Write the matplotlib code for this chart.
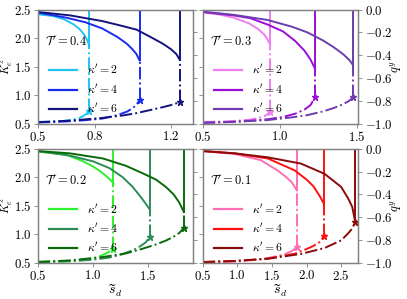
import matplotlib

matplotlib.use("Agg")
import matplotlib.pyplot as plt  # noqa: E402
from matplotlib.lines import Line2D  # noqa: E402

plt.rcParams.update({
    "font.family": "serif",
    "font.serif": ["cmr10"],
    "mathtext.fontset": "cm",
    "axes.formatter.use_mathtext": True,
    "font.size": 9.2,
})

KAPPAS = [2, 4, 6]

# ---- T' = 0.4 -------------------------------------------------------------
s04_k2 = [0.50, 0.58, 0.64, 0.69, 0.72, 0.745, 0.76, 0.772]
K04_k2 = [2.42, 2.39, 2.33, 2.24, 2.16, 2.06, 1.97, 1.87]
q04_k2 = [-0.985, -0.982, -0.976, -0.963, -0.950, -0.928, -0.910, -0.885]
s04_k4 = [0.50, 0.65, 0.75, 0.84, 0.92, 0.97, 1.00, 1.02, 1.036]
K04_k4 = [2.45, 2.36, 2.28, 2.17, 2.02, 1.90, 1.80, 1.72, 1.61]
q04_k4 = [-0.990, -0.981, -0.970, -0.956, -0.925, -0.895, -0.865, -0.835, -0.795]
s04_k6 = [0.50, 0.67, 0.84, 0.95, 1.02, 1.10, 1.16, 1.20, 1.23, 1.248]
K04_k6 = [2.46, 2.40, 2.30, 2.21, 2.15, 2.01, 1.90, 1.81, 1.72, 1.62]
q04_k6 = [-0.988, -0.974, -0.950, -0.928, -0.908, -0.878, -0.855, -0.838, -0.822, -0.806]

# ---- T' = 0.3 -------------------------------------------------------------
s03_k2 = [0.50, 0.60, 0.70, 0.80, 0.86, 0.90, 0.92, 0.937]
K03_k2 = [2.45, 2.42, 2.36, 2.26, 2.16, 2.06, 1.98, 1.89]
q03_k2 = [-0.985, -0.983, -0.977, -0.966, -0.952, -0.935, -0.918, -0.895]
s03_k4 = [0.50, 0.70, 0.81, 0.92, 1.02, 1.10, 1.16, 1.20, 1.229]
K03_k4 = [2.46, 2.40, 2.35, 2.24, 2.12, 1.95, 1.78, 1.62, 1.46]
q03_k4 = [-0.993, -0.984, -0.975, -0.962, -0.942, -0.913, -0.877, -0.836, -0.765]
s03_k6 = [0.50, 0.70, 0.92, 1.08, 1.18, 1.28, 1.35, 1.41, 1.45, 1.474]
K03_k6 = [2.465, 2.41, 2.32, 2.20, 2.10, 1.96, 1.84, 1.72, 1.62, 1.53]
q03_k6 = [-0.993, -0.985, -0.969, -0.945, -0.925, -0.893, -0.863, -0.830, -0.800, -0.770]

# ---- T' = 0.2 -------------------------------------------------------------
s02_k2 = [0.50, 0.75, 0.90, 1.00, 1.07, 1.12, 1.16, 1.186]
K02_k2 = [2.45, 2.40, 2.29, 2.19, 2.10, 2.02, 1.95, 1.89]
q02_k2 = [-0.990, -0.988, -0.977, -0.962, -0.940, -0.918, -0.895, -0.876]
s02_k4 = [0.50, 0.79, 1.00, 1.15, 1.27, 1.36, 1.43, 1.48, 1.513]
K02_k4 = [2.46, 2.38, 2.28, 2.16, 2.00, 1.83, 1.66, 1.53, 1.44]
q02_k4 = [-0.995, -0.987, -0.974, -0.955, -0.925, -0.890, -0.855, -0.820, -0.772]
s02_k6 = [0.50, 0.79, 1.09, 1.30, 1.45, 1.57, 1.66, 1.73, 1.78, 1.823]
K02_k6 = [2.46, 2.42, 2.33, 2.20, 2.07, 1.96, 1.83, 1.70, 1.56, 1.39]
q02_k6 = [-0.994, -0.980, -0.950, -0.918, -0.877, -0.840, -0.806, -0.772, -0.740, -0.695]

# ---- T' = 0.1 -------------------------------------------------------------
s01_k2 = [0.50, 0.96, 1.34, 1.58, 1.70, 1.78, 1.83, 1.859]
K01_k2 = [2.46, 2.41, 2.30, 2.12, 2.01, 1.92, 1.83, 1.77]
q01_k2 = [-0.995, -0.991, -0.970, -0.942, -0.921, -0.900, -0.880, -0.858]
s01_k4 = [0.50, 0.96, 1.44, 1.83, 2.00, 2.10, 2.19, 2.249]
K01_k4 = [2.46, 2.42, 2.33, 2.12, 1.96, 1.84, 1.67, 1.54]
q01_k4 = [-0.994, -0.985, -0.965, -0.921, -0.880, -0.853, -0.818, -0.769]
s01_k6 = [0.50, 0.96, 1.44, 1.92, 2.26, 2.50, 2.60, 2.66, 2.702]
K01_k6 = [2.46, 2.42, 2.35, 2.24, 2.06, 1.83, 1.63, 1.48, 1.22]
q01_k6 = [-0.994, -0.985, -0.965, -0.923, -0.871, -0.804, -0.743, -0.700, -0.643]

T_labels = ["0.4", "0.3", "0.2", "0.1"]
xlims = [(0.5, 1.32), (0.5, 1.51), (0.5, 1.91), (0.5, 2.75)]
xticks = [[0.5, 0.8, 1.2], [0.5, 1.0, 1.5], [0.5, 1.0, 1.5], [0.5, 1.0, 1.5, 2.0, 2.5]]
colors = [
    ["#21c3f3", "#1a2cf0", "#13137e"],
    ["#f07ff0", "#9a0ed6", "#6e3cae"],
    ["#2ef02e", "#2e8b57", "#0a6a0a"],
    ["#ff6eb4", "#ff1010", "#8b0a0a"],
]
curves = [
    [(s04_k2, K04_k2, q04_k2), (s04_k4, K04_k4, q04_k4), (s04_k6, K04_k6, q04_k6)],
    [(s03_k2, K03_k2, q03_k2), (s03_k4, K03_k4, q03_k4), (s03_k6, K03_k6, q03_k6)],
    [(s02_k2, K02_k2, q02_k2), (s02_k4, K02_k4, q02_k4), (s02_k6, K02_k6, q02_k6)],
    [(s01_k2, K01_k2, q01_k2), (s01_k4, K01_k4, q01_k4), (s01_k6, K01_k6, q01_k6)],
]

# panel rectangles in figure fractions (measured from the 407x299 reference)
W, H = 0.3828, 0.381
positions = [(0.0926, 0.5866), (0.498, 0.5866), (0.0926, 0.1214), (0.498, 0.1214)]
SPINE = "#808080"

fig = plt.figure(figsize=(4.07, 2.99), dpi=100)

for i in range(4):
    ax = fig.add_axes([positions[i][0], positions[i][1], W, H])
    ax2 = ax.twinx()
    left_col = i % 2 == 0
    bottom_row = i >= 2

    handles = []
    for j, (s, K, q) in enumerate(curves[i]):
        c = colors[i][j]
        ax.plot(s, K, "-", color=c, lw=1.4)
        ax.plot([s[-1], s[-1]], [K[-1], 3.0], "-", color=c, lw=1.4)
        # q^y branch on the right axis, jumping up to the K end point
        q_top = (K[-1] - 0.5) / 2.0 - 1.0
        ax2.plot(s, q, "-.", color=c, lw=1.4)
        ax2.plot([s[-1], s[-1]], [q[-1], q_top], "-.", color=c, lw=1.4)
        ax2.plot([s[-1]], [q[-1]], "*", color=c, ms=5)
        handles.append(Line2D([], [], color=c, lw=1.6, label=rf"$\kappa' = {KAPPAS[j]}$"))

    ax.set_xlim(*xlims[i])
    ax.set_ylim(0.5, 2.5)
    ax2.set_ylim(-1.0, 0.0)
    ax.set_xticks(xticks[i])
    ax.set_yticks([0.5, 1.0, 1.5, 2.0, 2.5])
    ax2.set_yticks([-1.0, -0.8, -0.6, -0.4, -0.2, 0.0])
    ax.tick_params(direction="out", length=3, width=0.6, color=SPINE, pad=1.5, top=False)
    ax2.tick_params(direction="out", length=3, width=0.6, color=SPINE, pad=1.5)
    if not left_col:
        ax.set_yticklabels([])
        ax2.set_ylabel(r"$q^y$", fontsize=9)
        ax2.yaxis.set_label_coords(1.19, 0.5)
    else:
        ax2.set_yticklabels([])
        ax.set_ylabel(r"$K_e^z$", fontsize=8.3)
        ax.yaxis.set_label_coords(-0.144, 0.5)
    if bottom_row:
        ax.set_xlabel(r"$\widetilde{s}_d$", fontsize=10, labelpad=0)
    for a in (ax, ax2):
        for sp in a.spines.values():
            sp.set_color(SPINE)
            sp.set_linewidth(0.9)

    ax2.text(0.045, 0.72, rf"$\mathcal{{T}}' = {T_labels[i]}$", transform=ax2.transAxes,
             fontsize=9, va="center", ha="left")
    ax2.legend(handles=handles, loc="center left", bbox_to_anchor=(0.02, 0.305),
               frameon=False, fontsize=8.5, handlelength=2.4, handletextpad=0.8,
               labelspacing=0.45, borderpad=0.2)

fig.savefig("out.png", dpi=100)
